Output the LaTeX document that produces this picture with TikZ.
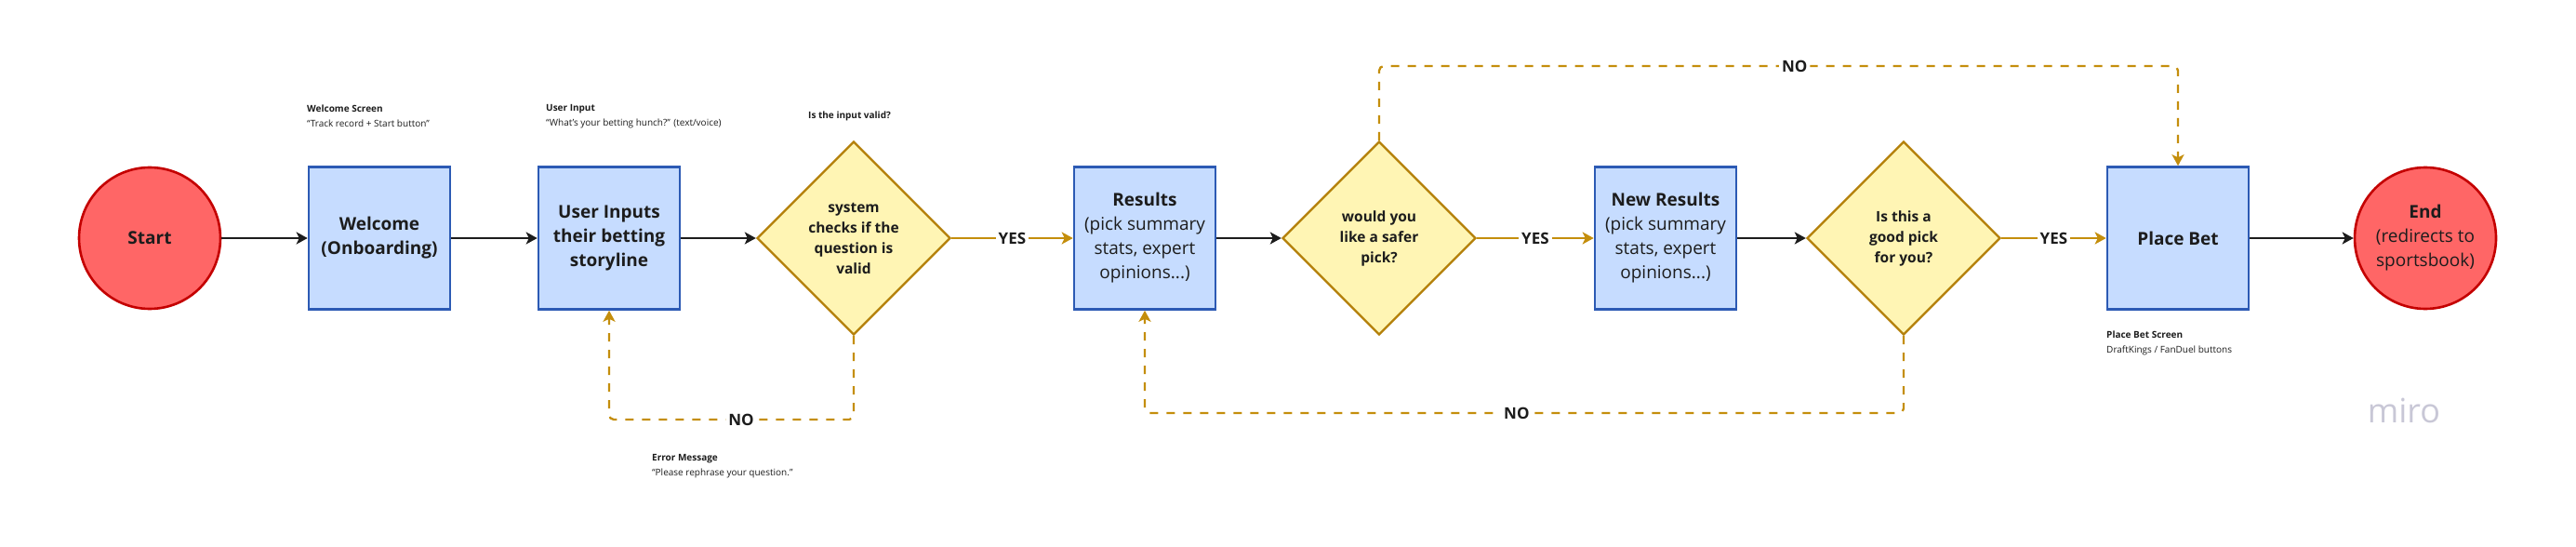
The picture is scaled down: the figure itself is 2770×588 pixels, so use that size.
\documentclass[tikz,border=0pt]{standalone}
\usepackage{fontspec}
\setmainfont{Open Sans}
\usetikzlibrary{shapes.geometric,arrows.meta}

\definecolor{termfill}{RGB}{255,102,102}
\definecolor{termline}{RGB}{196,0,0}
\definecolor{boxfill}{RGB}{198,220,255}
\definecolor{boxline}{RGB}{44,90,180}
\definecolor{decfill}{RGB}{255,245,180}
\definecolor{decline}{RGB}{180,128,10}
\definecolor{flowgold}{RGB}{196,142,12}
\definecolor{inkgray}{RGB}{28,28,28}
\definecolor{logogray}{RGB}{200,199,214}

\begin{document}
\begin{tikzpicture}[x=1pt, y=-1pt,
  terminal/.style={circle, draw=termline, fill=termfill, line width=2.6pt,
                   minimum size=152pt, inner sep=0pt, align=center,
                   text=inkgray, font=\fontsize{19}{26}\selectfont},
  screen/.style={rectangle, draw=boxline, fill=boxfill, line width=2.6pt,
                 minimum width=152pt, minimum height=153pt, inner sep=4pt,
                 align=center, text=inkgray, font=\fontsize{19}{26}\selectfont},
  check/.style={diamond, aspect=1, draw=decline, fill=decfill, line width=2.4pt,
                minimum width=208pt, minimum height=208pt, inner sep=0pt,
                align=center, text=inkgray, font=\bfseries\fontsize{15.5}{22}\selectfont},
  note/.style={anchor=west, align=left, inner sep=0pt, text=inkgray,
               font=\fontsize{10}{16}\selectfont},
  flow/.style={-{Stealth[length=12pt, width=13pt, inset=3pt]}, line width=2.3pt,
               color=inkgray},
  yesflow/.style={flow, color=flowgold},
  noflow/.style={yesflow, dash pattern=on 9pt off 9pt, rounded corners=5pt},
  answer/.style={fill=white, inner sep=3pt, text=inkgray,
                 font=\bfseries\fontsize{17}{17}\selectfont}
]
  \useasboundingbox (0,0) rectangle (2770,588);

  % main line
  \node[terminal] (start) at (161,256) {\textbf{Start}};
  \node[screen] (welcome) at (408,256) {\textbf{Welcome}\\\textbf{(Onboarding)}};
  \node[screen] (input) at (655,256) {\textbf{User Inputs}\\\textbf{their betting}\\\textbf{storyline}};
  \node[check] (valid) at (918,256) {system\\checks if the\\question is\\valid};
  \node[screen] (results) at (1231,256) {\textbf{Results}\\(pick summary\\stats, expert\\opinions...)};
  \node[check] (safer) at (1483,256) {would you\\like a safer\\pick?};
  \node[screen] (newres) at (1791,256) {\textbf{New Results}\\(pick summary\\stats, expert\\opinions...)};
  \node[check] (goodpick) at (2047,256) {Is this a\\good pick\\for you?};
  \node[screen] (placebet) at (2342,256) {\textbf{Place Bet}};
  \node[terminal] (stop) at (2608,256) {\textbf{End}\\(redirects to\\sportsbook)};

  % notes
  \node[note] (welcomenote) at (330,125) {\textbf{Welcome Screen}\\“Track record + Start button”};
  \node[note] (inputnote) at (587,125) {\textbf{User Input}\\“What’s your betting hunch?” (text/voice)};
  \node[note] (validnote) at (869,125) {\textbf{Is the input valid?}};
  \node[note] (errornote) at (701,501) {\textbf{Error Message}\\“Please rephrase your question.”};
  \node[note] (betnote) at (2265,369) {\textbf{Place Bet Screen}\\DraftKings / FanDuel buttons};
  \node[anchor=base, text=logogray, font=\fontsize{36}{36}\selectfont] (logo) at (2585,454) {miro};

  % connectors
  \draw[flow] (start) -- (welcome);
  \draw[flow] (welcome) -- (input);
  \draw[flow] (input) -- (valid);
  \draw[flow] (results) -- (safer);
  \draw[flow] (newres) -- (goodpick);
  \draw[flow] (placebet) -- (stop);

  \draw[yesflow] (valid) -- node[answer] {YES} (results);
  \draw[yesflow] (safer) -- node[answer] {YES} (newres);
  \draw[yesflow] (goodpick) -- node[answer] {YES} (placebet);

  % loops back
  \coordinate (n1) at (918,451);
  \coordinate (n2) at (655,451);
  \draw[noflow] (valid.south) -- (n1) -- node[answer, pos=0.46] {NO} (n2) -- (input.south);

  \coordinate (n3) at (1483,71);
  \coordinate (n4) at (2342,71);
  \draw[noflow] (safer.north) -- (n3) -- node[answer, pos=0.52] {NO} (n4) -- (placebet.north);

  \coordinate (n5) at (2047,444);
  \coordinate (n6) at (1231,444);
  \draw[noflow] (goodpick.south) -- (n5) -- node[answer, pos=0.51] {NO} (n6) -- (results.south);
\end{tikzpicture}
\end{document}
